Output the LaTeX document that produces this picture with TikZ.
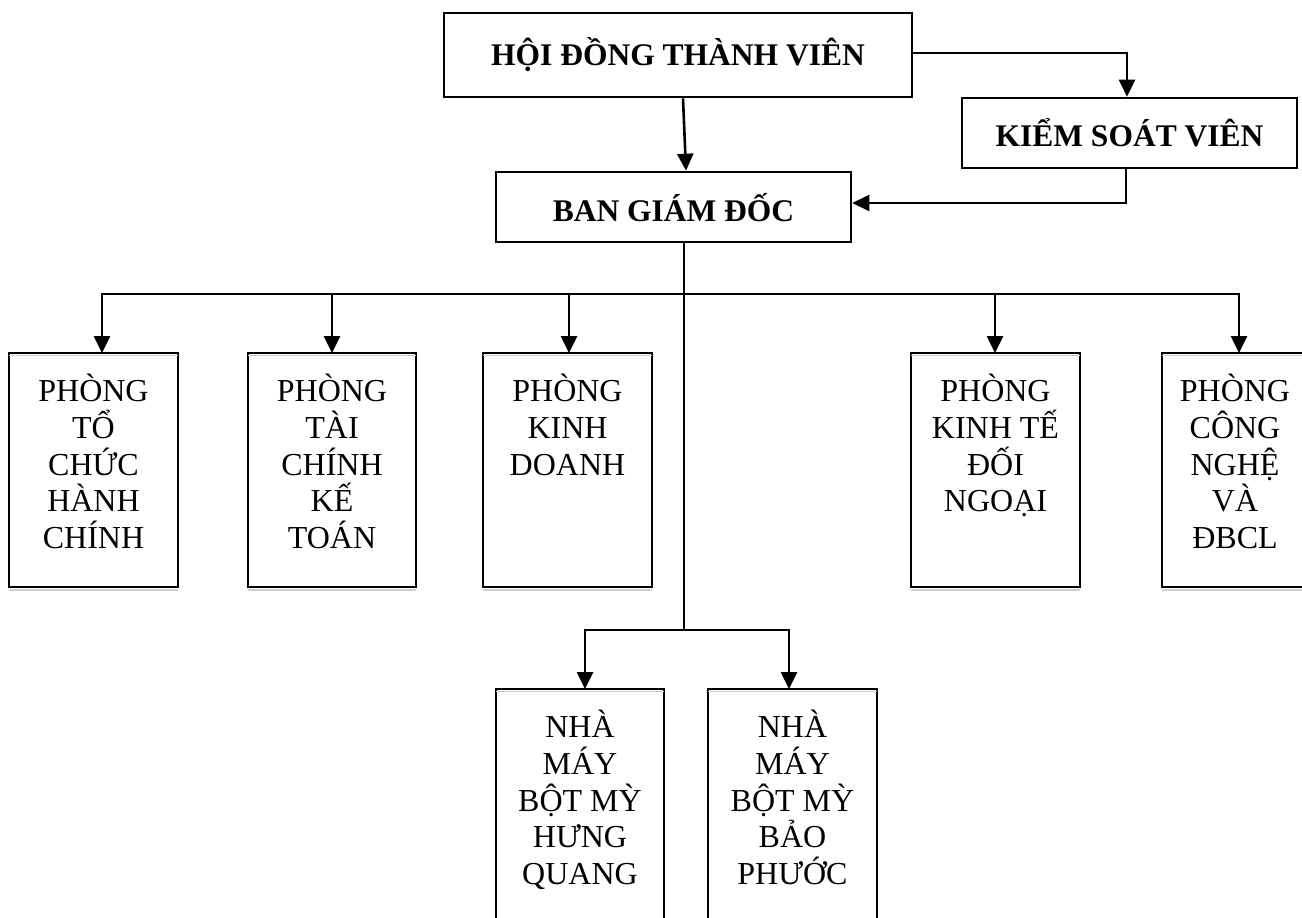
\documentclass[tikz,border=0pt]{standalone}
\usepackage{fontspec}
\setmainfont{Liberation Serif}
\usetikzlibrary{arrows.meta}
\begin{document}
\begin{tikzpicture}[x=1pt,y=-1pt,
  topbox/.style={draw,line width=2.6pt,inner sep=0pt,font=\fontsize{31.5}{36}\selectfont\bfseries},
  lowbox/.style={draw,line width=1.5pt,inner sep=0pt,outer sep=0pt,anchor=north west},
  lowtext/.style={anchor=north,inner sep=0pt,align=center,font=\fontsize{32}{36.7}\selectfont},
  conn/.style={line width=2.6pt,line cap=rect},
  arr/.style={line width=2.6pt,-{Triangle[length=17pt,width=16pt]}},
  shade/.style={draw=black!18,line width=1.5pt}]
\useasboundingbox (0,0) rectangle (1302,918);
\clip (0,0) rectangle (1302,918);

% top level
\node[topbox,minimum width=468pt,minimum height=84pt] (h) at (678,55) {HỘI ĐỒNG THÀNH VIÊN};
\node[topbox,minimum width=335pt,minimum height=70pt] (k) at (1129.5,133) {KIỂM SOÁT VIÊN};
\node[topbox,minimum width=355pt,minimum height=70pt,text depth=0pt] (b) at (673.5,207) {BAN GIÁM ĐỐC};

% departments
\node[lowbox,minimum width=169pt,minimum height=234pt] (p1) at (9,353) {};
\node[lowbox,minimum width=168pt,minimum height=234pt] (p2) at (248,353) {};
\node[lowbox,minimum width=169pt,minimum height=234pt] (p3) at (483,353) {};
\node[lowbox,minimum width=169pt,minimum height=234pt] (p4) at (911,353) {};
\node[lowbox,minimum width=152pt,minimum height=234pt] (p5) at (1162,353) {};
\node[lowbox,minimum width=168pt,minimum height=260pt] (n1) at (496,689) {};
\node[lowbox,minimum width=169pt,minimum height=260pt] (n2) at (708,689) {};

\foreach \q in {p1,p2,p3,p4,p5,n1,n2}{
  \draw[shade] ([yshift=-2.4pt]\q.north west) -- ([yshift=-2.4pt]\q.north east);
  \draw[shade] ([yshift=-2.8pt]\q.south west) -- ([yshift=-2.8pt]\q.south east);
}

\node[lowtext] (t1) at ([yshift=-21pt]p1.north) {PHÒNG\\TỔ\\CHỨC\\HÀNH\\CHÍNH};
\node[lowtext] (t2) at ([yshift=-21pt]p2.north) {PHÒNG\\TÀI\\CHÍNH\\KẾ\\TOÁN};
\node[lowtext] (t3) at ([yshift=-21pt]p3.north) {PHÒNG\\KINH\\DOANH};
\node[lowtext] (t4) at ([yshift=-21pt]p4.north) {PHÒNG\\KINH TẾ\\ĐỐI\\NGOẠI};
\node[lowtext] (t5) at ([yshift=-21pt,xshift=-3pt]p5.north) {PHÒNG\\CÔNG\\NGHỆ\\VÀ\\ĐBCL};
\node[lowtext] (t6) at ([yshift=-21pt]n1.north) {NHÀ\\MÁY\\BỘT MỲ\\HƯNG\\QUANG};
\node[lowtext] (t7) at ([yshift=-21pt]n2.north) {NHÀ\\MÁY\\BỘT MỲ\\BẢO\\PHƯỚC};

% helper coordinates
\coordinate (a1) at (683,0);
\coordinate (a2) at (686,0);
\coordinate (r1) at (1127,53);
\coordinate (r2) at (1126,203);
\coordinate (v) at (684,294);
\coordinate (b1) at (102,294);
\coordinate (b2) at (332,294);
\coordinate (b3) at (569,294);
\coordinate (b4) at (995,294);
\coordinate (b5) at (1239,294);
\coordinate (j) at (684,630);
\coordinate (f1) at (585,630);
\coordinate (f2) at (789,630);

% connectors
\draw[arr] (h.south -| a1) -- (b.north -| a2);
\draw[arr] (h.east |- r1) -| (k.north -| r1);
\draw[arr] (k.south -| r2) |- (b.east |- r2);
\draw[conn] (b.south -| v) -- (j);
\draw[conn] (b1) -- (b5);
\foreach \i in {1,...,5}{
  \draw[arr] (b\i) -- (p\i.north -| b\i);
}
\draw[conn] (f1) -- (f2);
\draw[arr] (f1) -- (n1.north -| f1);
\draw[arr] (f2) -- (n2.north -| f2);
\end{tikzpicture}
\end{document}
